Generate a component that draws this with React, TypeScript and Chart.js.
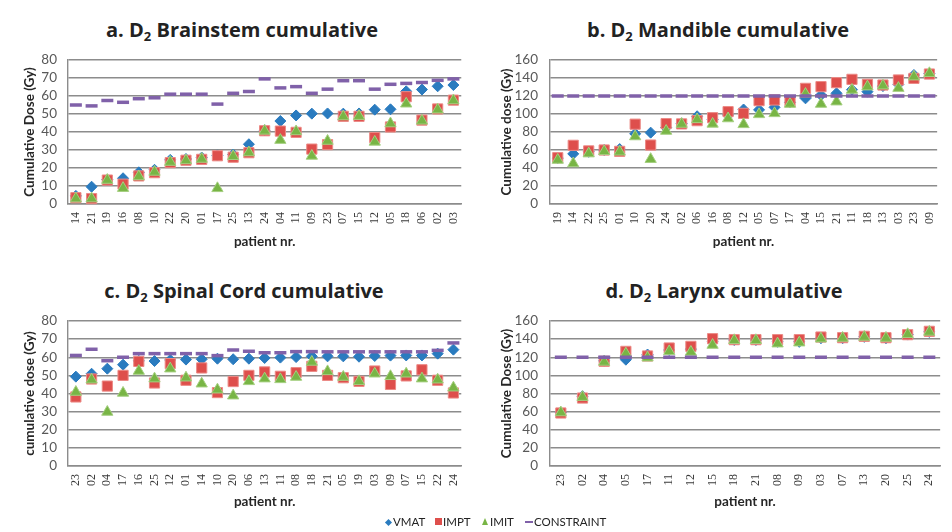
import React, { useEffect, useRef } from 'react';
import { Chart, registerables } from 'chart.js';

Chart.register(...registerables);

// ---- a. Brainstem ----
const brainstemPatients = ['14', '21', '19', '16', '08', '10', '22', '20', '01', '17', '25', '13', '24', '04', '11', '09', '23', '07', '15', '12', '05', '18', '06', '02', '03'];
const brainstemVmat = [4.5, 9.6, 13.5, 14.3, 17.6, 19, 24.5, 25, 25.8, 27, 27.5, 33.2, 41, 46.1, 49.2, 50.2, 50.3, 50.2, 50.3, 52.4, 52.6, 62.6, 63.6, 65.4, 66.1];
const brainstemImpt = [3.5, 3, 13.3, 11, 15.6, 17.4, 23, 24.3, 24.8, 26.8, 26, 28.5, 40.7, 40.5, 39.8, 30.5, 33, 48.7, 48.7, 36.9, 42.8, 59.6, 46.6, 52.8, 57.7];
const brainstemImit = [3, 3, 13.3, 8.8, 15.3, 17.8, 23.3, 24.2, 25, 8.7, 26.5, 28.6, 40.6, 35.5, 40.3, 26.7, 35, 48.6, 48.8, 34.5, 44.7, 55.7, 46.2, 52.4, 57.5];
const brainstemConstraint = [55, 54.5, 57.5, 56.5, 58.5, 59, 61, 61, 61, 55.5, 61.5, 62.5, 69.5, 64.5, 65.2, 61.5, 63.8, 68.5, 68.5, 63.8, 66.5, 67, 67.5, 68.7, 69.5];

// ---- b. Mandible ----
const mandiblePatients = ['19', '14', '22', '25', '01', '10', '20', '24', '02', '06', '16', '08', '12', '05', '07', '17', '04', '15', '21', '11', '18', '13', '03', '23', '09'];
const mandibleVmat = [51, 55.7, 58, 60, 61, 78, 79.3, 85, 89.5, 97.5, 94, 99, 105, 104.6, 107.4, 113, 117.4, 121, 123, 127, 124.8, 131, 133, 143.3, 145];
const mandibleImpt = [51.5, 65.2, 59, 60, 58.5, 88.7, 65.5, 89.3, 89, 92.6, 95.9, 102.6, 100.7, 114.8, 115.6, 113.7, 128.5, 130.4, 134.8, 138.5, 133, 132.2, 137.8, 139.6, 144.4];
const mandibleImit = [48.9, 45, 56, 58.5, 58, 75, 49.8, 81.1, 88.9, 94, 89, 95, 88.5, 99.6, 100.7, 111.1, 122.2, 111.1, 113.7, 126.7, 130.4, 131.5, 128.8, 141.5, 145.2];
const mandibleConstraint = [120, 120, 120, 120, 120, 120, 120, 120, 120, 120, 120, 120, 120, 120, 120, 120, 120, 120, 120, 120, 120, 120, 120, 120, 120];

// ---- c. Spinal Cord ----
const spinalPatients = ['23', '02', '04', '17', '16', '25', '12', '01', '14', '10', '20', '06', '13', '11', '08', '18', '21', '05', '19', '03', '09', '07', '15', '22', '24'];
const spinalVmat = [49.3, 50.9, 53.7, 55.9, 58, 57.9, 58.5, 58.7, 58.9, 59.2, 58.9, 59.2, 59.6, 59.8, 60.1, 60.5, 60.5, 60.5, 60.3, 60.7, 60.9, 61, 61, 62, 64.2];
const spinalImpt = [38.1, 48, 44.1, 50, 57.7, 45.8, 56.5, 47.3, 54.1, 40.5, 46.6, 50, 51.9, 49.5, 51.5, 55, 50, 48.7, 46.7, 52.4, 45, 49.7, 53.1, 47.3, 40.3];
const spinalImit = [40.8, 47.6, 29.8, 40.3, 52.4, 48.2, 53.7, 48.7, 45.4, 42.1, 38.8, 46.7, 48.2, 47.8, 49.1, 57.4, 52.2, 49.1, 46.7, 50.9, 49.5, 50.9, 48.2, 47.6, 43.2];
const spinalConstraint = [61, 64.4, 58.1, 60, 62, 62, 62, 62, 62, 60.9, 64, 63.3, 62.5, 62.5, 63.1, 63.1, 63, 63, 63, 63, 63, 63, 63, 63.8, 67.9];

// ---- d. Larynx ----
const larynxPatients = ['23', '02', '04', '05', '17', '11', '12', '15', '18', '21', '08', '09', '03', '07', '13', '20', '25', '24'];
const larynxVmat = [59, 77, 116, 117.3, 123, 128, 129, 137, 139, 139, 137, 137, 141, 141, 142.5, 141, 145, 148];
const larynxImpt = [58.5, 75, 115.5, 126.5, 121.4, 130.2, 132, 140.5, 139.4, 139.4, 139.4, 139.4, 142.3, 141.6, 143.1, 141.6, 144.9, 148.6];
const larynxImit = [59, 76, 114.8, 124, 119.5, 126.5, 125.8, 133.5, 138.7, 138.7, 135, 136.1, 140.5, 141.2, 142.3, 141.2, 145.3, 147.9];
const larynxConstraint = [120, 120, 120, 120, 120, 120, 120, 120, 120, 120, 120, 120, 120, 120, 120, 120, 120, 120];

// y-axis tick values
const ticksTo80 = [0, 10, 20, 30, 40, 50, 60, 70, 80];
const ticksTo160 = [0, 20, 40, 60, 80, 100, 120, 140, 160];

const SANS = 'Lato, "Open Sans", sans-serif';
const TITLE_SANS = '"Open Sans", Lato, sans-serif';
const SERIF = '"Liberation Serif", "DejaVu Serif", serif';

const BLUE = '#2a7bbf';
const RED = '#de4f4c';
const RED_EDGE = '#ec8a86';
const GREEN = '#78b545';
const GREEN_EDGE = '#a5cf80';
const PURPLE = '#8061a9';
const GRID = '#8c8c8c';

type Panel = {
  prefix: string;
  organ: string;
  yTitle: string;
  labels: string[];
  vmat: number[];
  impt: number[];
  imit: number[];
  constraint: number[];
  yTicks: number[];
  left: number;
  top: number;
  width: number;
  height: number;
  yAxisWidth: number;
  xAxisHeight: number;
  padTop: number;
  padRight: number;
  yTitlePad: number;
  yTickGap: number;
  xTitlePad: number;
  titleCenter: number;
  titleTop: number;
};

const panels: Panel[] = [
  {
    prefix: 'a.', organ: 'Brainstem', yTitle: 'Cumulative Dose (Gy)',
    labels: brainstemPatients, vmat: brainstemVmat, impt: brainstemImpt, imit: brainstemImit, constraint: brainstemConstraint,
    yTicks: ticksTo80,
    left: 0, top: 48, width: 476, height: 212,
    yAxisWidth: 68, xAxisHeight: 56, padTop: 12, padRight: 10,
    yTitlePad: 22, yTickGap: 11, xTitlePad: 10,
    titleCenter: 242, titleTop: 19,
  },
  {
    prefix: 'b.', organ: 'Mandible', yTitle: 'Cumulative dose (Gy)',
    labels: mandiblePatients, vmat: mandibleVmat, impt: mandibleImpt, imit: mandibleImit, constraint: mandibleConstraint,
    yTicks: ticksTo160,
    left: 490, top: 48, width: 462, height: 212,
    yAxisWidth: 60, xAxisHeight: 56, padTop: 12, padRight: 10,
    yTitlePad: 9, yTickGap: 12, xTitlePad: 10,
    titleCenter: 718, titleTop: 19,
  },
  {
    prefix: 'c.', organ: 'Spinal Cord', yTitle: 'cumulative dose (Gy)',
    labels: spinalPatients, vmat: spinalVmat, impt: spinalImpt, imit: spinalImit, constraint: spinalConstraint,
    yTicks: ticksTo80,
    left: 0, top: 309, width: 476, height: 212,
    yAxisWidth: 68, xAxisHeight: 55, padTop: 12, padRight: 10,
    yTitlePad: 22, yTickGap: 11, xTitlePad: 11,
    titleCenter: 244, titleTop: 280,
  },
  {
    prefix: 'd.', organ: 'Larynx', yTitle: 'Cumulative Dose (Gy)',
    labels: larynxPatients, vmat: larynxVmat, impt: larynxImpt, imit: larynxImit, constraint: larynxConstraint,
    yTicks: ticksTo160,
    left: 490, top: 309, width: 462, height: 212,
    yAxisWidth: 60, xAxisHeight: 55, padTop: 12, padRight: 10,
    yTitlePad: 9, yTickGap: 12, xTitlePad: 11,
    titleCenter: 724, titleTop: 280,
  },
];

function markerSeries(label: string, data: number[], style: string, radius: number, fill: string, edge: string, edgeWidth: number, order: number) {
  return {
    label,
    data,
    showLine: false,
    pointStyle: style,
    pointRadius: radius,
    pointHoverRadius: radius,
    pointBackgroundColor: fill,
    pointBorderColor: edge,
    pointBorderWidth: edgeWidth,
    backgroundColor: fill,
    borderColor: edge,
    order,
    clip: false,
  };
}

function buildConfig(p: Panel): any {
  const yMax = p.yTicks[p.yTicks.length - 1];
  return {
    type: 'line',
    data: {
      labels: p.labels,
      datasets: [
        markerSeries('VMAT', p.vmat, 'rectRot', 5.5, BLUE, BLUE, 1, 3),
        markerSeries('IMPT', p.impt, 'rect', 7.2, RED, RED_EDGE, 1, 2),
        markerSeries('IMIT', p.imit, 'triangle', 6.5, GREEN, GREEN_EDGE, 1, 1),
        markerSeries('CONSTRAINT', p.constraint, 'line', 6, PURPLE, PURPLE, 3.5, 0),
      ],
    },
    options: {
      animation: false,
      responsive: false,
      maintainAspectRatio: false,
      events: [],
      layout: { autoPadding: false, padding: { top: p.padTop, right: p.padRight, left: 0, bottom: 0 } },
      plugins: {
        legend: { display: false },
        tooltip: { enabled: false },
        title: { display: false },
      },
      scales: {
        x: {
          type: 'category',
          offset: true,
          grid: { display: false, drawTicks: false },
          border: { display: true, color: GRID, width: 1.4 },
          ticks: {
            autoSkip: false,
            minRotation: 90,
            maxRotation: 90,
            padding: 8,
            color: '#3a3a3a',
            font: { family: SERIF, size: 12 },
          },
          title: {
            display: true,
            text: 'patient nr.',
            color: '#262626',
            font: { family: SANS, size: 13.5, weight: 'bold' },
            padding: { top: 0, bottom: p.xTitlePad },
          },
          afterFit: (axis: any) => {
            axis.height = p.xAxisHeight;
          },
        },
        y: {
          min: 0,
          max: yMax,
          // invisible tick marks give the gap between labels and axis
          grid: { color: GRID, lineWidth: 1.4, drawTicks: true, tickLength: p.yTickGap, tickColor: 'rgba(0,0,0,0)' },
          border: { display: true, color: GRID, width: 1.4 },
          ticks: {
            autoSkip: false,
            padding: 0,
            color: '#595959',
            font: { family: SANS, size: 13.5 },
          },
          afterBuildTicks: (axis: any) => {
            axis.ticks = p.yTicks.map((v) => ({ value: v }));
          },
          title: {
            display: true,
            text: p.yTitle,
            color: '#262626',
            font: { family: SANS, size: 13.5, weight: 'bold' },
            padding: { top: p.yTitlePad, bottom: 0 },
          },
          afterFit: (axis: any) => {
            axis.width = p.yAxisWidth;
          },
        },
      },
    },
  };
}

function DoseChart({ panel }: { panel: Panel }) {
  const ref = useRef<HTMLCanvasElement | null>(null);
  useEffect(() => {
    if (!ref.current) return;
    const chart = new Chart(ref.current, buildConfig(panel));
    return () => chart.destroy();
  }, [panel]);
  return (
    <canvas
      ref={ref}
      width={panel.width}
      height={panel.height}
      style={{ position: 'absolute', left: panel.left, top: panel.top, width: panel.width, height: panel.height }}
    />
  );
}

function PanelTitle({ panel }: { panel: Panel }) {
  return (
    <div
      style={{
        position: 'absolute',
        left: panel.titleCenter - 220,
        width: 440,
        top: panel.titleTop,
        textAlign: 'center',
        fontFamily: TITLE_SANS,
        fontWeight: 700,
        fontSize: 20,
        lineHeight: '22px',
        color: '#222',
        whiteSpace: 'nowrap',
      }}
    >
      {panel.prefix} D<sub style={{ fontSize: 13, verticalAlign: '-4px', lineHeight: 0 }}>2</sub> {panel.organ} cumulative
    </div>
  );
}

const legendText: React.CSSProperties = {
  position: 'absolute',
  top: 514,
  fontFamily: SANS,
  fontSize: 11.5,
  lineHeight: '16px',
  color: '#222',
  whiteSpace: 'nowrap',
};

function Legend() {
  return (
    <>
      <div style={{ position: 'absolute', left: 385.5, top: 519.5, width: 5, height: 5, background: BLUE, transform: 'rotate(45deg)' }} />
      <div style={{ ...legendText, left: 393 }}>VMAT</div>
      <div style={{ position: 'absolute', left: 435, top: 518, width: 7, height: 7, background: RED }} />
      <div style={{ ...legendText, left: 443 }}>IMPT</div>
      <div
        style={{
          position: 'absolute',
          left: 482,
          top: 518,
          width: 0,
          height: 0,
          borderLeft: '3.5px solid transparent',
          borderRight: '3.5px solid transparent',
          borderBottom: `7px solid ${GREEN}`,
        }}
      />
      <div style={{ ...legendText, left: 490 }}>IMIT</div>
      <div style={{ position: 'absolute', left: 525, top: 521, width: 8, height: 2, background: PURPLE }} />
      <div style={{ ...legendText, left: 534 }}>CONSTRAINT</div>
    </>
  );
}

export default function App() {
  return (
    <div
      style={{
        position: 'fixed',
        left: 0,
        top: 0,
        width: 952,
        height: 532,
        background: '#ffffff',
        overflow: 'hidden',
      }}
    >
      {panels.map((p) => (
        <DoseChart key={p.prefix} panel={p} />
      ))}
      {panels.map((p) => (
        <PanelTitle key={`t-${p.prefix}`} panel={p} />
      ))}
      <Legend />
    </div>
  );
}
